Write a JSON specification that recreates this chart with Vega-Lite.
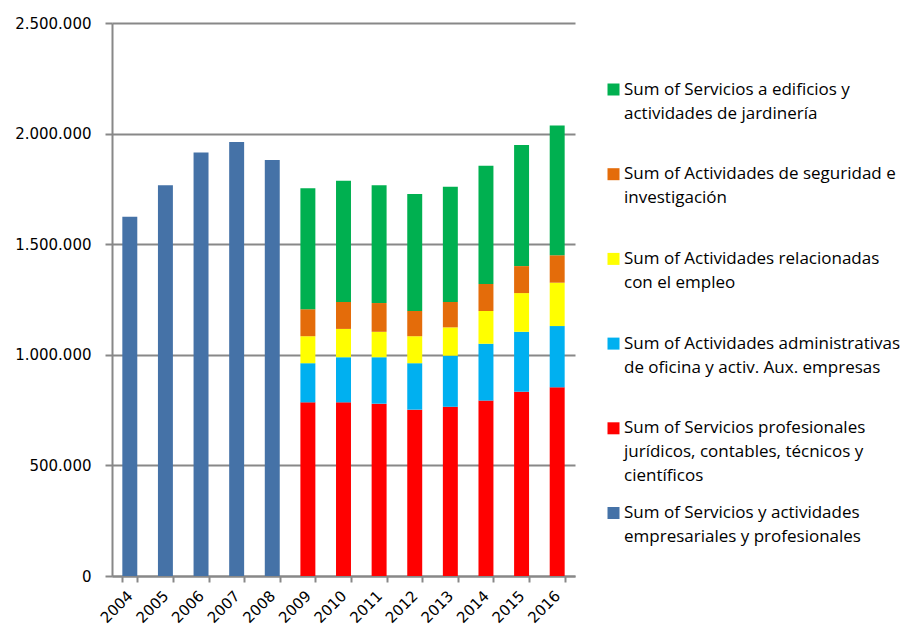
{
  "$schema": "https://vega.github.io/schema/vega-lite/v6.json",
  "width": 463,
  "height": 553,
  "autosize": {"type": "none"},
  "padding": {"left": 112, "top": 23, "right": 325, "bottom": 52},
  "background": "white",
  "config": {
    "view": {"stroke": null},
    "locale": {"number": {"decimal": ",", "thousands": ".", "grouping": [3], "currency": ["", " €"]}}
  },
  "data": {
    "values": [
      {"year": "2004", "series": "Sum of Servicios y actividades empresariales y profesionales", "value": 1624000},
      {"year": "2005", "series": "Sum of Servicios y actividades empresariales y profesionales", "value": 1766000},
      {"year": "2006", "series": "Sum of Servicios y actividades empresariales y profesionales", "value": 1915000},
      {"year": "2007", "series": "Sum of Servicios y actividades empresariales y profesionales", "value": 1962000},
      {"year": "2008", "series": "Sum of Servicios y actividades empresariales y profesionales", "value": 1881000},

      {"year": "2009", "series": "Sum of Servicios profesionales jurídicos, contables, técnicos y científicos", "value": 785000},
      {"year": "2009", "series": "Sum of Actividades administrativas de oficina y activ. Aux. empresas", "value": 177000},
      {"year": "2009", "series": "Sum of Actividades relacionadas con el empleo", "value": 122000},
      {"year": "2009", "series": "Sum of Actividades de seguridad e investigación", "value": 122000},
      {"year": "2009", "series": "Sum of Servicios a edificios y actividades de jardinería", "value": 547000},

      {"year": "2010", "series": "Sum of Servicios profesionales jurídicos, contables, técnicos y científicos", "value": 785000},
      {"year": "2010", "series": "Sum of Actividades administrativas de oficina y activ. Aux. empresas", "value": 204000},
      {"year": "2010", "series": "Sum of Actividades relacionadas con el empleo", "value": 128000},
      {"year": "2010", "series": "Sum of Actividades de seguridad e investigación", "value": 122000},
      {"year": "2010", "series": "Sum of Servicios a edificios y actividades de jardinería", "value": 548000},

      {"year": "2011", "series": "Sum of Servicios profesionales jurídicos, contables, técnicos y científicos", "value": 779000},
      {"year": "2011", "series": "Sum of Actividades administrativas de oficina y activ. Aux. empresas", "value": 210000},
      {"year": "2011", "series": "Sum of Actividades relacionadas con el empleo", "value": 115000},
      {"year": "2011", "series": "Sum of Actividades de seguridad e investigación", "value": 130000},
      {"year": "2011", "series": "Sum of Servicios a edificios y actividades de jardinería", "value": 532000},

      {"year": "2012", "series": "Sum of Servicios profesionales jurídicos, contables, técnicos y científicos", "value": 752000},
      {"year": "2012", "series": "Sum of Actividades administrativas de oficina y activ. Aux. empresas", "value": 210000},
      {"year": "2012", "series": "Sum of Actividades relacionadas con el empleo", "value": 122000},
      {"year": "2012", "series": "Sum of Actividades de seguridad e investigación", "value": 114000},
      {"year": "2012", "series": "Sum of Servicios a edificios y actividades de jardinería", "value": 529000},

      {"year": "2013", "series": "Sum of Servicios profesionales jurídicos, contables, técnicos y científicos", "value": 765000},
      {"year": "2013", "series": "Sum of Actividades administrativas de oficina y activ. Aux. empresas", "value": 231000},
      {"year": "2013", "series": "Sum of Actividades relacionadas con el empleo", "value": 128000},
      {"year": "2013", "series": "Sum of Actividades de seguridad e investigación", "value": 115000},
      {"year": "2013", "series": "Sum of Servicios a edificios y actividades de jardinería", "value": 521000},

      {"year": "2014", "series": "Sum of Servicios profesionales jurídicos, contables, técnicos y científicos", "value": 793000},
      {"year": "2014", "series": "Sum of Actividades administrativas de oficina y activ. Aux. empresas", "value": 257000},
      {"year": "2014", "series": "Sum of Actividades relacionadas con el empleo", "value": 148000},
      {"year": "2014", "series": "Sum of Actividades de seguridad e investigación", "value": 122000},
      {"year": "2014", "series": "Sum of Servicios a edificios y actividades de jardinería", "value": 535000},

      {"year": "2015", "series": "Sum of Servicios profesionales jurídicos, contables, técnicos y científicos", "value": 833000},
      {"year": "2015", "series": "Sum of Actividades administrativas de oficina y activ. Aux. empresas", "value": 271000},
      {"year": "2015", "series": "Sum of Actividades relacionadas con el empleo", "value": 175000},
      {"year": "2015", "series": "Sum of Actividades de seguridad e investigación", "value": 122000},
      {"year": "2015", "series": "Sum of Servicios a edificios y actividades de jardinería", "value": 547000},

      {"year": "2016", "series": "Sum of Servicios profesionales jurídicos, contables, técnicos y científicos", "value": 853000},
      {"year": "2016", "series": "Sum of Actividades administrativas de oficina y activ. Aux. empresas", "value": 277000},
      {"year": "2016", "series": "Sum of Actividades relacionadas con el empleo", "value": 196000},
      {"year": "2016", "series": "Sum of Actividades de seguridad e investigación", "value": 124000},
      {"year": "2016", "series": "Sum of Servicios a edificios y actividades de jardinería", "value": 587000}
    ]
  },
  "transform": [
    {
      "calculate": "indexof(['Sum of Servicios y actividades empresariales y profesionales', 'Sum of Servicios profesionales jurídicos, contables, técnicos y científicos', 'Sum of Actividades administrativas de oficina y activ. Aux. empresas', 'Sum of Actividades relacionadas con el empleo', 'Sum of Actividades de seguridad e investigación', 'Sum of Servicios a edificios y actividades de jardinería'], datum.series)",
      "as": "stack_rank"
    }
  ],
  "mark": {"type": "bar"},
  "encoding": {
    "x": {
      "field": "year",
      "type": "ordinal",
      "scale": {"paddingInner": 0.58, "paddingOuter": 0.29},
      "axis": {
        "title": null,
        "tickBand": "extent",
        "domainColor": "#888888",
        "domainWidth": 2,
        "tickColor": "#888888",
        "tickWidth": 2,
        "tickSize": 6,
        "labelAngle": -45,
        "labelAlign": "right",
        "labelBaseline": "middle",
        "labelFont": "DejaVu Sans",
        "labelFontSize": 15,
        "labelColor": "#000000",
        "labelPadding": 11,
        "grid": false
      }
    },
    "y": {
      "field": "value",
      "type": "quantitative",
      "stack": "zero",
      "scale": {"domain": [0, 2500000], "nice": false},
      "axis": {
        "title": null,
        "values": [0, 500000, 1000000, 1500000, 2000000, 2500000],
        "format": ",d",
        "grid": true,
        "gridColor": "#888888",
        "gridWidth": 2,
        "domainColor": "#888888",
        "domainWidth": 2,
        "tickColor": "#888888",
        "tickWidth": 2,
        "tickSize": 7,
        "labelPadding": 14,
        "labelFont": "DejaVu Sans",
        "labelFontSize": 15,
        "labelColor": "#000000"
      }
    },
    "color": {
      "field": "series",
      "type": "nominal",
      "scale": {
        "domain": [
          "Sum of Servicios a edificios y actividades de jardinería",
          "Sum of Actividades de seguridad e investigación",
          "Sum of Actividades relacionadas con el empleo",
          "Sum of Actividades administrativas de oficina y activ. Aux. empresas",
          "Sum of Servicios profesionales jurídicos, contables, técnicos y científicos",
          "Sum of Servicios y actividades empresariales y profesionales"
        ],
        "range": ["#00B050", "#E46C0A", "#FFFF00", "#00B0F0", "#FF0000", "#4572A7"]
      },
      "legend": {
        "title": null,
        "orient": "none",
        "legendX": 493,
        "legendY": 58,
        "symbolType": "square",
        "symbolSize": 144,
        "symbolStrokeWidth": 0,
        "labelFont": "Open Sans",
        "labelFontSize": 17,
        "labelColor": "#000000",
        "labelLimit": 0,
        "labelBaseline": "middle",
        "labelOffset": 2,
        "gridAlign": "all",
        "rowPadding": 18.7,
        "encode": {"labels": {"update": {"lineHeight": {"value": 24}}}},
        "labelExpr": "datum.label == 'Sum of Servicios a edificios y actividades de jardinería' ? ['Sum of Servicios a edificios y', 'actividades de jardinería'] : datum.label == 'Sum of Actividades de seguridad e investigación' ? ['Sum of Actividades de seguridad e', 'investigación'] : datum.label == 'Sum of Actividades relacionadas con el empleo' ? ['Sum of Actividades relacionadas', 'con el empleo'] : datum.label == 'Sum of Actividades administrativas de oficina y activ. Aux. empresas' ? ['Sum of Actividades administrativas', 'de oficina y activ. Aux. empresas'] : datum.label == 'Sum of Servicios profesionales jurídicos, contables, técnicos y científicos' ? ['Sum of Servicios profesionales', 'jurídicos, contables, técnicos y', 'científicos'] : ['Sum of Servicios y actividades', 'empresariales y profesionales']"
      }
    },
    "order": {"field": "stack_rank", "type": "quantitative", "sort": "ascending"}
  }
}
